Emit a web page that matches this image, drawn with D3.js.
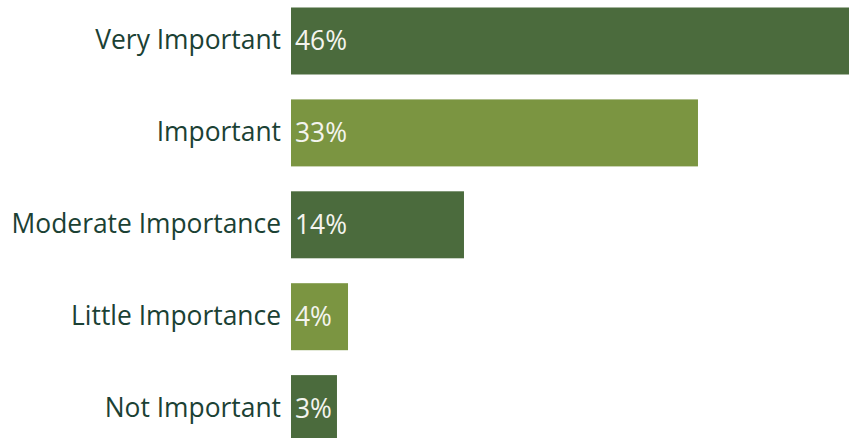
<!DOCTYPE html>
<html><head><meta charset="utf-8">
<script src="https://cdn.jsdelivr.net/npm/d3@7"></script>
<style>body{margin:0;background:#fff;overflow:hidden}svg{display:block}</style>
</head><body>
<script>
const categories = ["Very Important","Important","Moderate Importance","Little Importance","Not Important"];
const values = [46, 33.55, 14.26, 4.7, 3.79];
const valueLabels = ["46%","33%","14%","4%","3%"];
const barColors = ["#4b6b3d","#7b9541","#4b6b3d","#7b9541","#4b6b3d"];

const W = 849, H = 438;
const svg = d3.select("body").append("svg").attr("width", W).attr("height", H);
const x = d3.scaleLinear().domain([0, 46]).range([291, 849]);
const y = d3.scaleBand().domain(categories).range([7.5, 442.1]).paddingInner(0.271).paddingOuter(0);

svg.selectAll("rect.bar").data(categories).join("rect")
  .attr("class","bar")
  .attr("x", x(0))
  .attr("y", d => y(d))
  .attr("width", (d,i) => x(values[i]) - x(0))
  .attr("height", y.bandwidth())
  .attr("fill", (d,i) => barColors[i]);

svg.append("g").attr("transform", `translate(${x(0)},0)`)
  .call(d3.axisLeft(y).tickSize(0).tickPadding(10))
  .call(g => g.select(".domain").remove())
  .call(g => g.selectAll("text").attr("font-family","'Open Sans', sans-serif").attr("font-size", 26.4).attr("fill","#1b4134"));

svg.selectAll("text.val").data(categories).join("text")
  .attr("class","val")
  .attr("x", x(0) + 4)
  .attr("y", d => y(d) + y.bandwidth()/2)
  .attr("dy","0.35em")
  .attr("font-family","'Open Sans', sans-serif").attr("font-size", 26.4)
  .attr("fill","#f4f4ee")
  .text((d,i) => valueLabels[i]);
</script>
</body></html>
